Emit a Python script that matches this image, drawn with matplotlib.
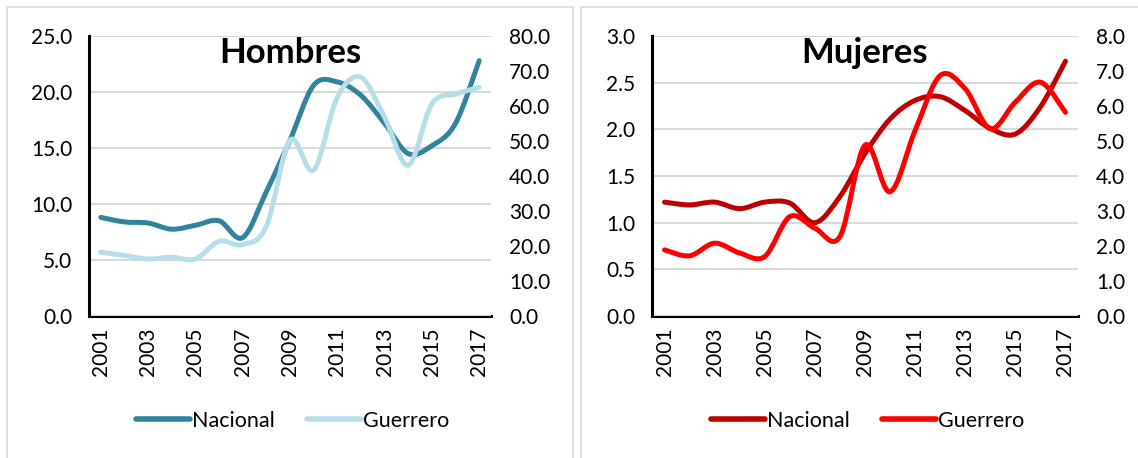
import matplotlib
matplotlib.use("Agg")
import matplotlib.pyplot as plt
from matplotlib.path import Path
from matplotlib.patches import PathPatch, Rectangle
from matplotlib.lines import Line2D

plt.rcParams['font.family'] = ['Lato', 'DejaVu Sans']

years = list(range(2001, 2018))
year_labels = [str(y) for y in years]

# Hombres
hom_nacional = [8.8, 8.4, 8.3, 7.75, 8.1, 8.5, 7.0, 11.1, 15.7, 20.6, 20.9,
                19.7, 17.2, 14.5, 15.2, 17.2, 22.8]
hom_guerrero = [18.2, 17.3, 16.3, 16.8, 16.3, 21.3, 20.4, 25.6, 50.2, 41.7, 62.5,
                68.2, 56.8, 43.1, 60.6, 63.4, 65.3]

# Mujeres
muj_nacional = [1.22, 1.19, 1.22, 1.15, 1.22, 1.21, 1.00, 1.28, 1.74, 2.11, 2.31,
                2.35, 2.20, 2.01, 1.95, 2.24, 2.73]
muj_guerrero = [1.89, 1.72, 2.08, 1.80, 1.70, 2.84, 2.51, 2.27, 4.88, 3.55, 5.30,
                6.87, 6.49, 5.35, 6.11, 6.68, 5.82]


def smooth_line(ax, xs, ys, color, lw):
    # bezier segments like excel's "smoothed line"
    verts = [(xs[0], ys[0])]
    codes = [Path.MOVETO]
    n = len(xs)
    for i in range(n - 1):
        x0, y0 = (xs[i - 1], ys[i - 1]) if i > 0 else (xs[i], ys[i])
        x1, y1 = xs[i], ys[i]
        x2, y2 = xs[i + 1], ys[i + 1]
        x3, y3 = (xs[i + 2], ys[i + 2]) if i + 2 < n else (x2, y2)
        c1 = (x1 + (x2 - x0) / 6.0, y1 + (y2 - y0) / 6.0)
        c2 = (x2 - (x3 - x1) / 6.0, y2 - (y3 - y1) / 6.0)
        verts += [c1, c2, (x2, y2)]
        codes += [Path.CURVE4] * 3
    patch = PathPatch(Path(verts, codes), facecolor='none', edgecolor=color,
                      lw=lw, capstyle='round', joinstyle='round')
    ax.add_patch(patch)


def panel(fig, rect, title, nac, gue, c_nac, c_gue, lmax, lstep, rmax, rstep, leg_x):
    ax = fig.add_axes(rect)
    ax2 = ax.twinx()
    idx = list(range(len(years)))
    ax.set_xlim(-0.5, len(years) - 0.5)
    ax.set_ylim(0, lmax)
    ax2.set_ylim(0, rmax)
    lt = [i * lstep for i in range(int(round(lmax / lstep)) + 1)]
    rt = [i * rstep for i in range(int(round(rmax / rstep)) + 1)]
    ax.set_yticks(lt)
    ax.set_yticklabels(['%.1f' % v for v in lt])
    ax2.set_yticks(rt)
    ax2.set_yticklabels(['%.1f' % v for v in rt])
    ax.set_xticks(idx[::2])
    ax.set_xticklabels(year_labels[::2], rotation=90)
    ax.tick_params(axis='both', length=0, labelsize=15, colors='black')
    ax.tick_params(axis='y', pad=12)
    ax.tick_params(axis='x', pad=8)
    ax2.tick_params(axis='y', length=0, labelsize=15, pad=13)
    ax.grid(axis='y', color='#d9d9d9', lw=1.5)
    ax.set_axisbelow(True)
    for s in ['top', 'right']:
        ax.spines[s].set_visible(False)
    for s in ['top', 'right', 'left', 'bottom']:
        ax2.spines[s].set_visible(False)
    ax.spines['left'].set_linewidth(2.2)
    ax.spines['bottom'].set_linewidth(2.2)
    ax.spines['bottom'].set_zorder(0.5)

    smooth_line(ax, idx, nac, c_nac, 3.6)
    smooth_line(ax2, idx, gue, c_gue, 3.6)

    ax.text(0.5, 0.94, title, transform=ax.transAxes, ha='center', va='center',
            fontsize=25, fontweight='bold')

    handles = [Line2D([], [], color=c_nac, lw=4, solid_capstyle='round'),
               Line2D([], [], color=c_gue, lw=4, solid_capstyle='round')]
    fig.legend(handles, ['Nacional', 'Guerrero'], loc='center',
               bbox_to_anchor=(leg_x, 0.081), ncol=2, frameon=False,
               fontsize=15.5, handlelength=2.5, handletextpad=0.1,
               columnspacing=1.5)
    return ax


fig = plt.figure(figsize=(11.38, 4.58), dpi=100)

# panel borders
fig.patches.append(Rectangle((7 / 1138, -0.1), 566 / 1138, 1.1 - 7 / 458,
                             transform=fig.transFigure, fill=False,
                             edgecolor='#d9d9d9', lw=1.2))
fig.patches.append(Rectangle((581 / 1138, -0.1), 0.6, 1.1 - 7 / 458,
                             transform=fig.transFigure, fill=False,
                             edgecolor='#d9d9d9', lw=1.2))

panel(fig, [89 / 1138, 142 / 458, 402 / 1138, 280 / 458], 'Hombres',
      hom_nacional, hom_guerrero, '#31849b', '#b7dee8', 25, 5, 80, 10, 293 / 1138)
panel(fig, [652 / 1138, 142 / 458, 426 / 1138, 280 / 458], 'Mujeres',
      muj_nacional, muj_guerrero, '#c00000', '#ff0000', 3, 0.5, 8, 1, 868 / 1138)

fig.savefig('out.png', dpi=100)
